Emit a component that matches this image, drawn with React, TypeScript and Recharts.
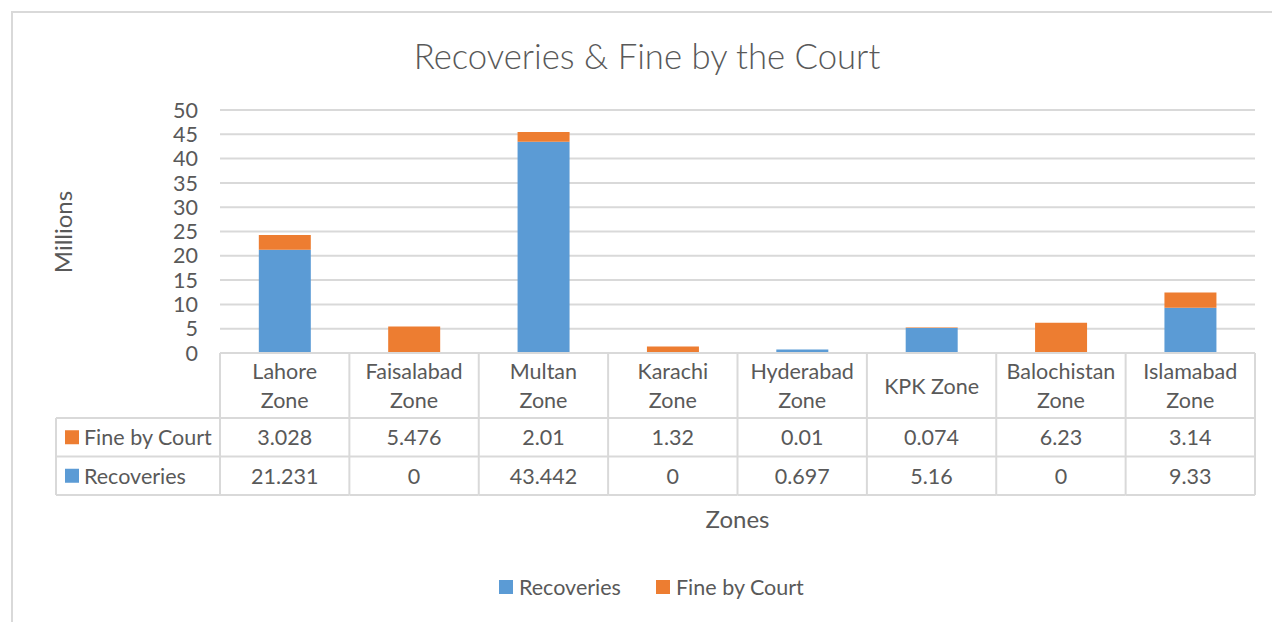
import React from 'react';
import { BarChart, Bar, XAxis, YAxis, CartesianGrid } from 'recharts';

const categories = [
  'Lahore Zone',
  'Faisalabad Zone',
  'Multan Zone',
  'Karachi Zone',
  'Hyderabad Zone',
  'KPK Zone',
  'Balochistan Zone',
  'Islamabad Zone',
];
const recoveries = [21.231, 0, 43.442, 0, 0.697, 5.16, 0, 9.33];
const fineByCourt = [3.028, 5.476, 2.01, 1.32, 0.01, 0.074, 6.23, 3.14];
const yTicks = [0, 5, 10, 15, 20, 25, 30, 35, 40, 45, 50];
const seriesNames = { recoveries: 'Recoveries', fine: 'Fine by Court' };
const titleText = 'Recoveries & Fine by the Court';
const yAxisTitle = 'Millions';
const xAxisTitle = 'Zones';

const data = categories.map((zone, i) => ({
  zone,
  recoveries: recoveries[i],
  fine: fineByCourt[i],
}));

const W = 1272;
const H = 622;
const PLOT_L = 220;
const PLOT_R = 1255;
const PLOT_T = 110;
const PLOT_B = 353;
const HEADER_H = 65;
const ROW_H = 38.5;
const XAXIS_H = HEADER_H + 2 * ROW_H;
const YAXIS_W = 60;
const FONT = 'Lato, sans-serif';
const TEXT = '#595959';
const GRID = '#d9d9d9';
const BLUE = '#5B9BD5';
const ORANGE = '#ED7D31';
const FS = 21.5;
const colW = (PLOT_R - PLOT_L) / categories.length;

function TableTick(props: any) {
  const { x, y, payload } = props;
  const label: string = payload.value;
  const i = categories.indexOf(label);
  const lines = label.length > 8 ? label.split(' ') : [label];
  const left = x - colW / 2;
  const right = x + colW / 2;
  const top = y;
  const r1 = top + HEADER_H;
  const r2 = r1 + ROW_H;
  const r3 = r2 + ROW_H;
  const headCy = top + HEADER_H / 2;
  return (
    <g>
      {i === 0 && <line x1={left} x2={left} y1={top} y2={r3} stroke={GRID} strokeWidth={2} />}
      <line x1={right} x2={right} y1={top} y2={r3} stroke={GRID} strokeWidth={2} />
      <line x1={left} x2={right} y1={r1} y2={r1} stroke={GRID} strokeWidth={2} />
      <line x1={left} x2={right} y1={r2} y2={r2} stroke={GRID} strokeWidth={2} />
      <line x1={left} x2={right} y1={r3} y2={r3} stroke={GRID} strokeWidth={2} />
      {lines.map((ln, k) => (
        <text
          key={k}
          x={x}
          y={headCy + (k - (lines.length - 1) / 2) * 29}
          textAnchor="middle"
          dominantBaseline="central"
          fontFamily={FONT}
          fontSize={FS}
          fill={TEXT}
        >
          {ln}
        </text>
      ))}
      <text x={x} y={r1 + ROW_H / 2} textAnchor="middle" dominantBaseline="central" fontFamily={FONT} fontSize={FS} fill={TEXT}>
        {String(fineByCourt[i])}
      </text>
      <text x={x} y={r2 + ROW_H / 2} textAnchor="middle" dominantBaseline="central" fontFamily={FONT} fontSize={FS} fill={TEXT}>
        {String(recoveries[i])}
      </text>
    </g>
  );
}

export default function App() {
  const r1 = PLOT_B + HEADER_H;
  const r2 = r1 + ROW_H;
  const r3 = r2 + ROW_H;
  const tableLeft = 56;
  return (
    <div style={{ position: 'absolute', left: 0, top: 0, width: W, height: H, overflow: 'hidden', background: '#fff' }}>
      <div
        style={{
          position: 'absolute',
          left: 11,
          top: 11,
          width: W + 20,
          height: H + 20,
          border: `2px solid ${GRID}`,
          boxSizing: 'border-box',
        }}
      />
      <div style={{ position: 'absolute', left: 0, top: 0 }}>
        <BarChart
          width={W}
          height={H}
          data={data}
          margin={{ top: PLOT_T, right: W - PLOT_R, left: PLOT_L - YAXIS_W, bottom: H - PLOT_B - XAXIS_H }}
          barCategoryGap="30%"
        >
          <CartesianGrid vertical={false} stroke={GRID} strokeWidth={2} />
          <YAxis
            width={YAXIS_W}
            domain={[0, 50]}
            ticks={yTicks}
            interval={0}
            axisLine={false}
            tickLine={false}
            tickSize={0}
            tickMargin={22}
            tick={{ fontFamily: FONT, fontSize: FS, fill: TEXT }}
          />
          <XAxis
            dataKey="zone"
            height={XAXIS_H}
            interval={0}
            axisLine={{ stroke: GRID, strokeWidth: 2 }}
            tickLine={false}
            tickSize={0}
            tickMargin={0}
            tick={<TableTick />}
          />
          <Bar dataKey="recoveries" name={seriesNames.recoveries} stackId="a" fill={BLUE} isAnimationActive={false} />
          <Bar dataKey="fine" name={seriesNames.fine} stackId="a" fill={ORANGE} isAnimationActive={false} />
        </BarChart>
      </div>
      <svg width={W} height={H} style={{ position: 'absolute', left: 0, top: 0, pointerEvents: 'none' }}>
        <text x={647} y={55} textAnchor="middle" dominantBaseline="central" fontFamily={FONT} fontWeight={300} fontSize={34.7} fill={TEXT}>
          {titleText}
        </text>
        <text
          x={62}
          y={232}
          textAnchor="middle"
          dominantBaseline="central"
          fontFamily={FONT}
          fontSize={24}
          fill={TEXT}
          transform="rotate(-90 62 232)"
        >
          {yAxisTitle}
        </text>
        <text x={(PLOT_L + PLOT_R) / 2} y={518} textAnchor="middle" dominantBaseline="central" fontFamily={FONT} fontSize={24} fill={TEXT}>
          {xAxisTitle}
        </text>
        {/* left legend column of table */}
        <line x1={tableLeft} x2={PLOT_L} y1={r1} y2={r1} stroke={GRID} strokeWidth={2} />
        <line x1={tableLeft} x2={PLOT_L} y1={r2} y2={r2} stroke={GRID} strokeWidth={2} />
        <line x1={tableLeft} x2={PLOT_L} y1={r3} y2={r3} stroke={GRID} strokeWidth={2} />
        <line x1={tableLeft} x2={tableLeft} y1={r1} y2={r3} stroke={GRID} strokeWidth={2} />
        <rect x={65} y={r1 + ROW_H / 2 - 7} width={14} height={14} fill={ORANGE} />
        <text x={84} y={r1 + ROW_H / 2} dominantBaseline="central" fontFamily={FONT} fontSize={FS} fill={TEXT}>
          {seriesNames.fine}
        </text>
        <rect x={65} y={r2 + ROW_H / 2 - 7} width={14} height={14} fill={BLUE} />
        <text x={84} y={r2 + ROW_H / 2} dominantBaseline="central" fontFamily={FONT} fontSize={FS} fill={TEXT}>
          {seriesNames.recoveries}
        </text>
        {/* bottom legend */}
        <rect x={499} y={580} width={14} height={14} fill={BLUE} />
        <text x={519} y={587} dominantBaseline="central" fontFamily={FONT} fontSize={FS} fill={TEXT}>
          {seriesNames.recoveries}
        </text>
        <rect x={656} y={580} width={14} height={14} fill={ORANGE} />
        <text x={676} y={587} dominantBaseline="central" fontFamily={FONT} fontSize={FS} fill={TEXT}>
          {seriesNames.fine}
        </text>
      </svg>
    </div>
  );
}
